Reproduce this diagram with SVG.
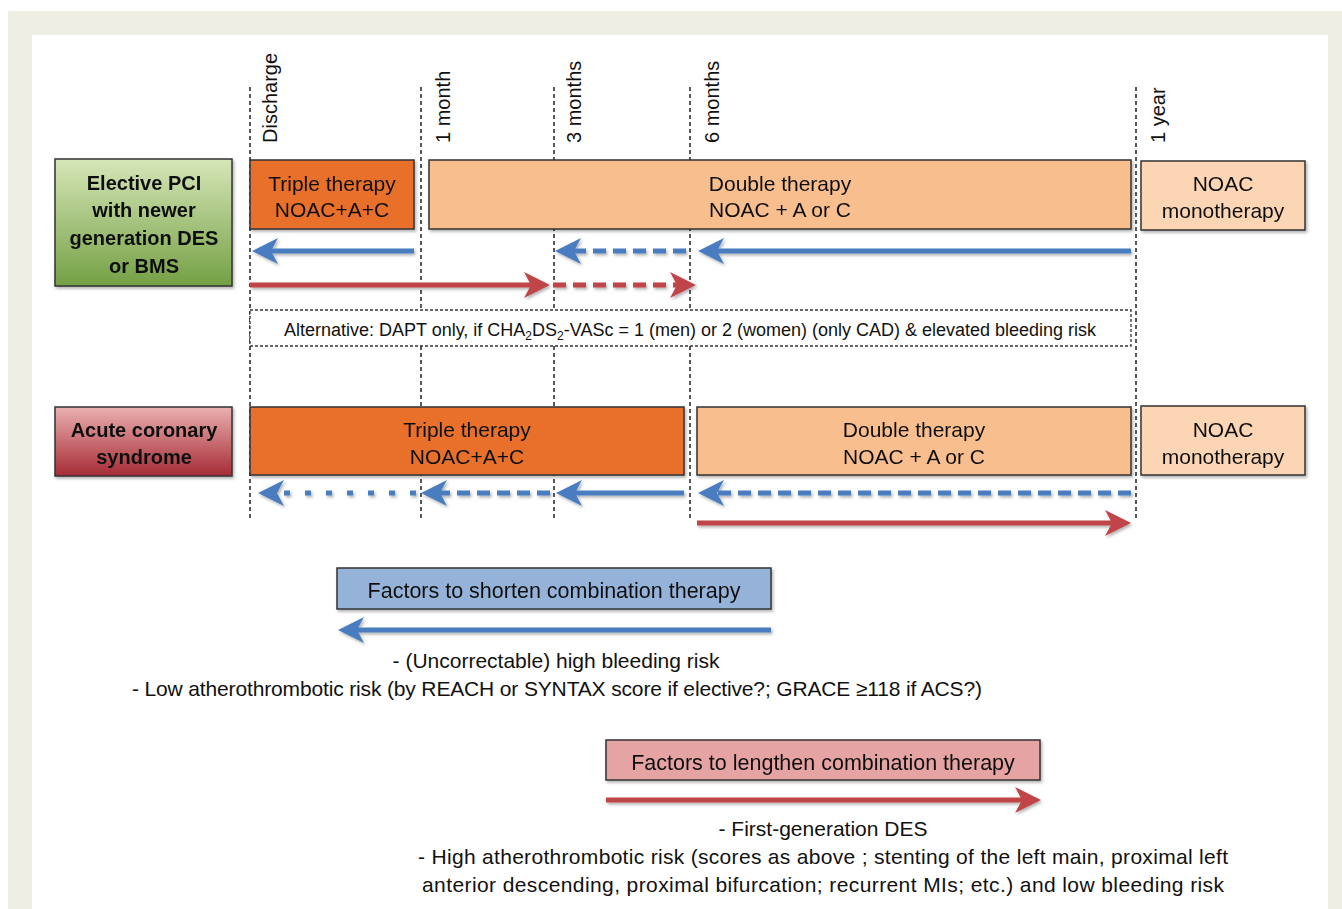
<svg xmlns="http://www.w3.org/2000/svg" width="1342" height="909" viewBox="0 0 1342 909">
<style>
text{font-family:"Liberation Sans",Arial,sans-serif;fill:#111;}
.c{text-anchor:middle;font-size:21px;}
.b{font-weight:bold;font-size:20px;}
.f{font-size:21.5px;}
.lbl{font-size:20px;}
.box{stroke:#333;stroke-width:1.5;}
.vl{stroke:#222;stroke-width:1.5;stroke-dasharray:4 3;fill:none;}
.blue{stroke:#4a7dc0;stroke-width:5;fill:none;}
.red{stroke:#c0454a;stroke-width:5;fill:none;}
.dash{stroke-dasharray:13 7;}
.dot{stroke-dasharray:6 15;}
</style>
<defs>
<linearGradient id="gGreen" x1="0" y1="0" x2="0" y2="1"><stop offset="0" stop-color="#d6e6b8"/><stop offset="1" stop-color="#74a044"/></linearGradient>
<linearGradient id="gRed" x1="0" y1="0" x2="0" y2="1"><stop offset="0" stop-color="#eab0b0"/><stop offset="1" stop-color="#a52b35"/></linearGradient>
<filter id="sh" x="-5%" y="-20%" width="110%" height="150%"><feDropShadow dx="1.5" dy="2" stdDeviation="1.5" flood-color="#000" flood-opacity="0.3"/></filter>
<marker id="hb" viewBox="0 0 26 26" refX="16" refY="13" markerWidth="26" markerHeight="26" orient="auto" markerUnits="userSpaceOnUse"><path d="M26,13 L0,0 L7,13 L0,26 Z" fill="#4a7dc0"/></marker>
<marker id="hr" viewBox="0 0 26 26" refX="16" refY="13" markerWidth="26" markerHeight="26" orient="auto" markerUnits="userSpaceOnUse"><path d="M26,13 L0,0 L7,13 L0,26 Z" fill="#c0454a"/></marker>
</defs>
<rect x="0" y="0" width="1342" height="909" fill="#fff"/>
<rect x="8" y="11" width="1334" height="898" fill="#eeeee4"/>
<rect x="32" y="35" width="1296" height="874" fill="#fff"/>

<g id="timeline">
<line class="vl" x1="250" y1="87" x2="250" y2="520"/>
<line class="vl" x1="421" y1="87" x2="421" y2="520"/>
<line class="vl" x1="554" y1="87" x2="554" y2="520"/>
<line class="vl" x1="690" y1="87" x2="690" y2="520"/>
<line class="vl" x1="1136" y1="87" x2="1136" y2="520"/>
<text class="lbl" transform="translate(277,143) rotate(-90)">Discharge</text>
<text class="lbl" transform="translate(450,143) rotate(-90)">1 month</text>
<text class="lbl" transform="translate(581,143) rotate(-90)">3 months</text>
<text class="lbl" transform="translate(719,143) rotate(-90)">6 months</text>
<text class="lbl" transform="translate(1165,143) rotate(-90)">1 year</text>
</g>

<g id="elective" filter="url(#sh)">
<rect class="box" x="55" y="159" width="177" height="127" fill="url(#gGreen)"/>
<text class="c b" x="144" y="190">Elective PCI</text>
<text class="c b" x="144" y="217">with newer</text>
<text class="c b" x="144" y="245">generation DES</text>
<text class="c b" x="144" y="273">or BMS</text>
</g>
<g id="triple1" filter="url(#sh)">
<rect class="box" x="250" y="160" width="164" height="69" fill="#e8702a"/>
<text class="c" x="332" y="191">Triple therapy</text>
<text class="c" x="332" y="217">NOAC+A+C</text>
</g>
<g id="double1" filter="url(#sh)">
<rect class="box" x="429" y="160" width="702" height="69" fill="#f9be8e"/>
<text class="c" x="780" y="191">Double therapy</text>
<text class="c" x="780" y="217">NOAC + A or C</text>
</g>
<g id="mono1" filter="url(#sh)">
<rect class="box" x="1141" y="161" width="164" height="69" fill="#fbd5b4"/>
<text class="c" x="1223" y="191">NOAC</text>
<text class="c" x="1223" y="218">monotherapy</text>
</g>

<g id="alternative">
<rect x="250" y="310" width="881" height="36" fill="#fff" stroke="#333" stroke-width="1.3" stroke-dasharray="3 2"/>
<text x="690" y="336" text-anchor="middle" font-size="18">Alternative: DAPT only, if CHA<tspan dy="4" font-size="12">2</tspan><tspan dy="-4">DS</tspan><tspan dy="4" font-size="12">2</tspan><tspan dy="-4">-VASc = 1 (men) or 2 (women) (only CAD) &amp; elevated bleeding risk</tspan></text>
</g>

<g id="acs" filter="url(#sh)">
<rect class="box" x="55" y="407" width="177" height="69" fill="url(#gRed)"/>
<text class="c b" x="144" y="437">Acute coronary</text>
<text class="c b" x="144" y="464">syndrome</text>
</g>
<g id="triple2" filter="url(#sh)">
<rect class="box" x="250" y="407" width="434" height="68" fill="#e8702a"/>
<text class="c" x="467" y="437">Triple therapy</text>
<text class="c" x="467" y="464">NOAC+A+C</text>
</g>
<g id="double2" filter="url(#sh)">
<rect class="box" x="697" y="407" width="434" height="68" fill="#f9be8e"/>
<text class="c" x="914" y="437">Double therapy</text>
<text class="c" x="914" y="464">NOAC + A or C</text>
</g>
<g id="mono2" filter="url(#sh)">
<rect class="box" x="1141" y="406" width="164" height="69" fill="#fbd5b4"/>
<text class="c" x="1223" y="437">NOAC</text>
<text class="c" x="1223" y="464">monotherapy</text>
</g>

<g id="shorten" filter="url(#sh)">
<rect class="box" x="337" y="568" width="434" height="41" fill="#95b3d9"/>
<text class="c f" x="554" y="598">Factors to shorten combination therapy</text>
</g>
<g id="shorten-text">
<text class="c" x="556" y="668">- (Uncorrectable) high bleeding risk</text>
<text class="c" x="557" y="696" textLength="850" lengthAdjust="spacing">- Low atherothrombotic risk (by REACH or SYNTAX score if elective?; GRACE ≥118 if ACS?)</text>
</g>
<g id="lengthen" filter="url(#sh)">
<rect class="box" x="606" y="740" width="434" height="40" fill="#e6a3a3"/>
<text class="c f" x="823" y="770">Factors to lengthen combination therapy</text>
</g>
<g id="lengthen-text">
<text class="c" x="823" y="836">- First-generation DES</text>
<text class="c" x="823" y="864" textLength="810" lengthAdjust="spacing">- High atherothrombotic risk (scores as above ; stenting of the left main, proximal left</text>
<text class="c" x="823" y="892" textLength="802" lengthAdjust="spacing">anterior descending, proximal bifurcation; recurrent MIs; etc.) and low bleeding risk</text>
</g>

<g id="connectors" filter="url(#sh)">
<line class="blue" x1="414" y1="251" x2="262" y2="251" marker-end="url(#hb)"/>
<line class="blue dash" x1="686" y1="251" x2="565" y2="251" marker-end="url(#hb)"/>
<line class="blue" x1="1131" y1="251" x2="708" y2="251" marker-end="url(#hb)"/>
<line class="red" x1="250" y1="285" x2="540" y2="285" marker-end="url(#hr)"/>
<line class="red dash" x1="553" y1="285" x2="686" y2="285" marker-end="url(#hr)"/>
<line class="blue dot" x1="416" y1="493" x2="268" y2="493" marker-end="url(#hb)"/>
<line class="blue dash" x1="550" y1="493" x2="431" y2="493" marker-end="url(#hb)"/>
<line class="blue" x1="684" y1="493" x2="566" y2="493" marker-end="url(#hb)"/>
<line class="blue dash" x1="1131" y1="493" x2="708" y2="493" marker-end="url(#hb)"/>
<line class="red" x1="697" y1="523" x2="1121" y2="523" marker-end="url(#hr)"/>
<line class="blue" x1="771" y1="630" x2="348" y2="630" marker-end="url(#hb)"/>
<line class="red" x1="606" y1="800" x2="1031" y2="800" marker-end="url(#hr)"/>
</g>
</svg>
